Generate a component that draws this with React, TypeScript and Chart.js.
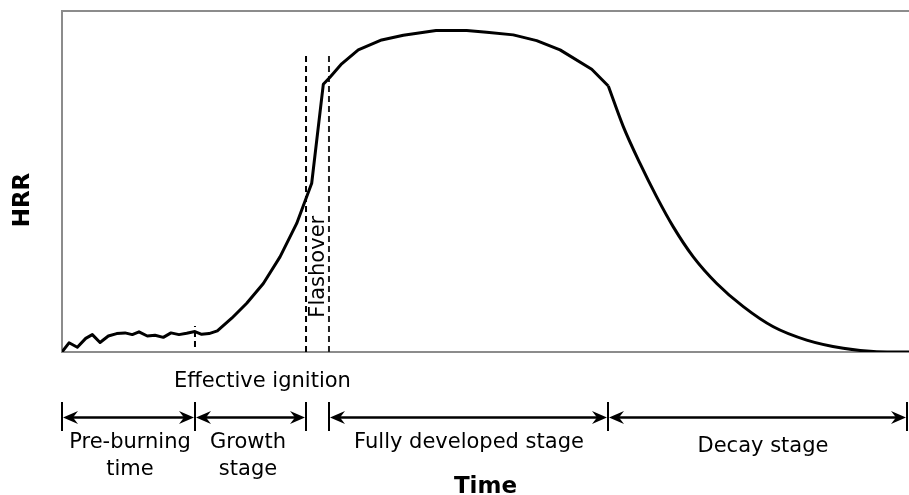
import React, { useEffect, useRef } from "react";
import { Chart, registerables } from "chart.js";
Chart.register(...registerables);

// Main HRR curve (arbitrary units: time 0..100, HRR 0..100)
const timeValues = [0, 0.83, 1.81, 2.8, 3.58, 4.49, 5.47, 6.46, 7.44, 8.3, 9.09, 10.07, 10.98, 11.96, 12.87, 13.81, 14.72, 15.7, 16.49, 17.36, 18.34, 20.04, 21.81, 23.77, 25.74, 27.71, 29.48, 30.85, 31.64, 33.02, 34.98, 37.74, 40.3, 44.16, 47.78, 50.14, 53.28, 56.04, 58.8, 62.54, 64.5];
const hrrValues = [0, 2.7, 1.4, 4.0, 5.1, 2.8, 4.7, 5.4, 5.6, 5.1, 5.9, 4.7, 4.9, 4.3, 5.6, 5.1, 5.5, 6.0, 5.2, 5.4, 6.2, 9.9, 14.3, 20.1, 27.9, 37.7, 49.5, 78.5, 80.6, 84.5, 88.6, 91.5, 92.9, 94.3, 94.3, 93.8, 93.0, 91.3, 88.6, 82.9, 78.0];
// Decay branch (smooth)
const decayTime = [64.5, 66.27, 68.24, 70.21, 72.17, 74.53, 77.3, 80.44, 83.98, 87.92, 92.24, 96.19, 100];
const decayHrr = [78.0, 66.1, 55.3, 45.5, 36.7, 27.9, 20.1, 13.3, 7.4, 3.5, 1.1, 0.1, 0];

// Markers
const ignitionTime = 15.7;
const ignitionMarkRange = [1.5, 7.6];
const flashoverTimes = [28.81, 31.52];
const flashoverMarkRange = [0, 88];
const flashoverLabelHrr = 25;

// Stage brackets
const stageBoundaries = [0, 15.7, 28.81, 31.52, 64.52, 99.8];
const stageSpans = [[0, 15.7], [15.7, 28.81], [31.52, 64.52], [64.52, 99.8]];
const stageLabels = [["Pre-burning", "time"], ["Growth", "stage"], ["Fully developed stage"], ["Decay stage"]];
const stageLabelX = [8.03, 21.96, 48.05, 82.76];
const ignitionLabel = "Effective ignition";
const ignitionLabelX = 23.67;
const xTitle = "Time";
const yTitle = "HRR";
const flashoverLabel = "Flashover";

const FONT = '21px "DejaVu Sans"';
const BOLD = 'bold 23px "DejaVu Sans"';

function arrowHead(ctx: CanvasRenderingContext2D, x: number, y: number, dir: number) {
  const L = 15, H = 6.5, N = 5;
  ctx.beginPath();
  ctx.moveTo(x, y);
  ctx.lineTo(x - dir * L, y - H);
  ctx.lineTo(x - dir * (L - N), y);
  ctx.lineTo(x - dir * L, y + H);
  ctx.closePath();
  ctx.fill();
}

const annotPlugin = {
  id: "annot",
  beforeDatasetsDraw(chart: any) {
    const { ctx, chartArea: a } = chart;
    ctx.save();
    ctx.strokeStyle = "#8c8c8c";
    ctx.lineWidth = 2;
    ctx.beginPath();
    ctx.moveTo(a.right + 2, a.top);
    ctx.lineTo(a.left, a.top);
    ctx.lineTo(a.left, a.bottom);
    ctx.lineTo(a.right + 2, a.bottom);
    ctx.stroke();
    ctx.restore();
  },
  afterDraw(chart: any) {
    const { ctx, chartArea: a, scales } = chart;
    const xs = scales.x, ys = scales.y;
    const b = a.bottom;
    ctx.save();
    ctx.fillStyle = "#000";
    ctx.strokeStyle = "#000";

    // Flashover label
    const fx = (xs.getPixelForValue(flashoverTimes[0]) + xs.getPixelForValue(flashoverTimes[1])) / 2;
    ctx.save();
    ctx.translate(fx + 6.5, ys.getPixelForValue(flashoverLabelHrr));
    ctx.rotate(-Math.PI / 2);
    ctx.font = FONT;
    ctx.textAlign = "center";
    ctx.textBaseline = "alphabetic";
    ctx.fillText(flashoverLabel, 0, 0);
    ctx.restore();

    // Effective ignition label
    ctx.font = FONT;
    ctx.textAlign = "center";
    ctx.textBaseline = "alphabetic";
    ctx.fillText(ignitionLabel, xs.getPixelForValue(ignitionLabelX), b + 35);

    // Bracket ticks
    ctx.lineWidth = 2;
    stageBoundaries.forEach((t) => {
      const x = Math.round(xs.getPixelForValue(t));
      ctx.beginPath();
      ctx.moveTo(x, b + 50);
      ctx.lineTo(x, b + 79);
      ctx.stroke();
    });
    // Arrows
    const ay = b + 65.5;
    ctx.lineWidth = 2.5;
    stageSpans.forEach(([s, e]) => {
      const x1 = Math.round(xs.getPixelForValue(s)) + 1;
      const x2 = Math.round(xs.getPixelForValue(e)) - 1;
      ctx.beginPath();
      ctx.moveTo(x1 + 8, ay);
      ctx.lineTo(x2 - 8, ay);
      ctx.stroke();
      arrowHead(ctx, x1, ay, -1);
      arrowHead(ctx, x2, ay, 1);
    });
    // Stage labels
    ctx.font = FONT;
    stageLabels.forEach((lines, i) => {
      const x = xs.getPixelForValue(stageLabelX[i]);
      const base = i === 3 ? b + 100 : b + 96;
      lines.forEach((ln, j) => ctx.fillText(ln, x, base + j * 27));
    });

    // Axis titles
    ctx.font = BOLD;
    ctx.fillText(xTitle, (a.left + a.right) / 2, b + 141);
    ctx.save();
    ctx.translate(29, 200);
    ctx.rotate(-Math.PI / 2);
    ctx.textAlign = "center";
    ctx.fillText(yTitle, 0, 0);
    ctx.restore();

    ctx.restore();
  },
};

export default function App() {
  const ref = useRef<HTMLCanvasElement | null>(null);
  useEffect(() => {
    if (!ref.current) return;
    const mainData = timeValues.map((t, i) => ({ x: t, y: hrrValues[i] }));
    const decayData = decayTime.map((t, i) => ({ x: t, y: decayHrr[i] }));
    const dash = (x: number, r: number[]) => [{ x, y: r[0] }, { x, y: r[1] }];
    const chart = new Chart(ref.current, {
      type: "line",
      data: {
        datasets: [
          { data: mainData, borderColor: "#000", borderWidth: 3, pointRadius: 0, tension: 0, borderJoinStyle: "round" },
          { data: decayData, borderColor: "#000", borderWidth: 3, pointRadius: 0, cubicInterpolationMode: "monotone", borderJoinStyle: "round" },
          { data: dash(ignitionTime, ignitionMarkRange), borderColor: "#000", borderWidth: 2, borderDash: [6, 4], pointRadius: 0 },
          { data: dash(flashoverTimes[0], flashoverMarkRange), borderColor: "#000", borderWidth: 2, borderDash: [6, 4], pointRadius: 0 },
          { data: dash(flashoverTimes[1], flashoverMarkRange), borderColor: "#222", borderWidth: 2, borderDash: [6, 4], pointRadius: 0 },
        ],
      } as any,
      options: {
        animation: false,
        responsive: false,
        parsing: false,
        layout: { padding: { left: 62, top: 11, right: 0, bottom: 143 } },
        plugins: { legend: { display: false }, tooltip: { enabled: false } },
        scales: {
          x: { type: "linear", min: 0, max: 100, display: false },
          y: { type: "linear", min: 0, max: 100, display: false },
        },
      } as any,
      plugins: [annotPlugin as any],
    });
    return () => chart.destroy();
  }, []);
  return (
    <div style={{ position: "fixed", left: 0, top: 0, width: 909, height: 495, background: "#fff" }}>
      <canvas ref={ref} width={909} height={495} style={{ display: "block" }} />
    </div>
  );
}
